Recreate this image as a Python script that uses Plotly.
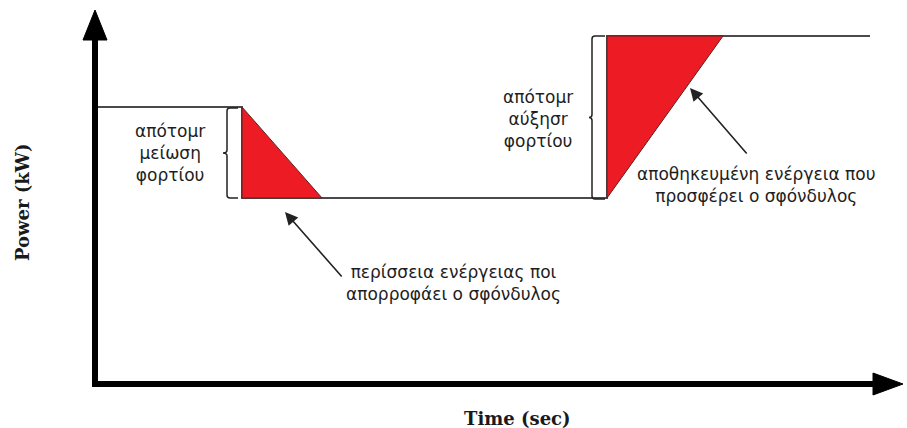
import plotly.graph_objects as go

# Load profile (time in arbitrary units, power in arbitrary units)
t_profile = [2, 147, 147, 512, 512, 775]
p_profile = [277, 277, 186, 186, 348, 348]

# Energy regions handled by the flywheel
t_absorb = [147, 147, 227, 147]
p_absorb = [277, 186, 186, 277]
t_supply = [512, 512, 628, 512]
p_supply = [186, 348, 348, 186]

# Labels
lbl_drop = "απότομr<br>μείωση<br>φορτίου"
lbl_rise = "απότομr<br>αύξησr<br>φορτίου"
lbl_supply = "αποθηκευμένη ενέργεια που<br>προσφέρει ο σφόνδυλος"
lbl_absorb = "περίσσεια ενέργειας ποι<br>απορροφάει ο σφόνδυλος"
x_title = "Time (sec)"
y_title = "Power (kW)"

RED = "#ED1C24"
TXT = "#1e1e1e"
GREEK_FONT = "DejaVu Sans"
SERIF_FONT = "DejaVu Serif"
GREEK_SIZE = 17

fig = go.Figure()

fig.add_trace(go.Scatter(x=t_profile, y=p_profile, mode="lines",
                         line=dict(color="#4a4a4a", width=2),
                         hoverinfo="skip", showlegend=False))
fig.add_trace(go.Scatter(x=t_absorb, y=p_absorb, mode="lines", fill="toself",
                         fillcolor=RED, line=dict(color="#5a2020", width=1),
                         hoverinfo="skip", showlegend=False))
fig.add_trace(go.Scatter(x=t_supply, y=p_supply, mode="lines", fill="toself",
                         fillcolor=RED, line=dict(color="#5a2020", width=1),
                         hoverinfo="skip", showlegend=False))

shapes = []
# Axes with arrowheads
shapes.append(dict(type="line", xref="x", yref="y", x0=0, y0=0, x1=0, y1=346,
                   line=dict(color="black", width=6)))
shapes.append(dict(type="path", xref="x", yref="y",
                   path="M -12,344 L 12,344 L 0,374 Z",
                   fillcolor="black", line=dict(color="black", width=1)))
shapes.append(dict(type="line", xref="x", yref="y", x0=-3, y0=0, x1=780, y1=0,
                   line=dict(color="black", width=6)))
shapes.append(dict(type="path", xref="x", yref="y",
                   path="M 778,11 L 778,-11 L 808,0 Z",
                   fillcolor="black", line=dict(color="black", width=1)))

# Curly brackets marking the load steps
def bracket(xv, xh, xn, ytop, ybot):
    ymid = (ytop + ybot) / 2
    return (f"M {xh},{ytop} L {xv+3},{ytop} Q {xv},{ytop} {xv},{ytop-3} "
            f"L {xv},{ymid+3} Q {xv},{ymid} {xn},{ymid} Q {xv},{ymid} {xv},{ymid-3} "
            f"L {xv},{ybot+3} Q {xv},{ybot} {xv+3},{ybot} L {xh},{ybot}")

shapes.append(dict(type="path", xref="x", yref="y",
                   path=bracket(132, 143, 128, 276, 186),
                   line=dict(color="#222222", width=1.5)))
shapes.append(dict(type="path", xref="x", yref="y",
                   path=bracket(497, 510, 494, 348, 185),
                   line=dict(color="#222222", width=1.5)))

greek = dict(family=GREEK_FONT, size=GREEK_SIZE, color=TXT)
annotations = [
    dict(x=75, y=231, text=lbl_drop, showarrow=False, xref="x", yref="y",
         font=greek, align="center"),
    dict(x=443, y=265, text=lbl_rise, showarrow=False, xref="x", yref="y",
         font=greek, align="center"),
    dict(x=661, y=199, text=lbl_supply, showarrow=False, xref="x", yref="y",
         font=greek, align="center"),
    dict(x=358, y=101, text=lbl_absorb, showarrow=False, xref="x", yref="y",
         font=greek, align="center"),
    # Pointer arrows
    dict(x=595, y=296, ax=653, ay=229, xref="x", yref="y", axref="x", ayref="y",
         text="", showarrow=True, arrowhead=2, arrowsize=1.6, arrowwidth=1.6,
         arrowcolor="#222222"),
    dict(x=190, y=172, ax=248, ay=106, xref="x", yref="y", axref="x", ayref="y",
         text="", showarrow=True, arrowhead=2, arrowsize=1.6, arrowwidth=1.6,
         arrowcolor="#222222"),
    # Axis titles
    dict(x=422, y=-34, text=f"<b>{x_title}</b>", showarrow=False, xref="x", yref="y",
         font=dict(family=SERIF_FONT, size=18, color="#1a1a1a")),
    dict(x=-73, y=181, text=f"<b>{y_title}</b>", showarrow=False, xref="x", yref="y",
         textangle=-90, font=dict(family=SERIF_FONT, size=18, color="#1a1a1a")),
]

fig.update_layout(
    width=907, height=428,
    margin=dict(l=0, r=0, t=0, b=0),
    paper_bgcolor="white", plot_bgcolor="white",
    xaxis=dict(range=[-95, 812], visible=False, fixedrange=True),
    yaxis=dict(range=[-44, 384], visible=False, fixedrange=True),
    shapes=shapes, annotations=annotations,
    showlegend=False,
)

fig.write_html("out.html", config={"displayModeBar": False})
